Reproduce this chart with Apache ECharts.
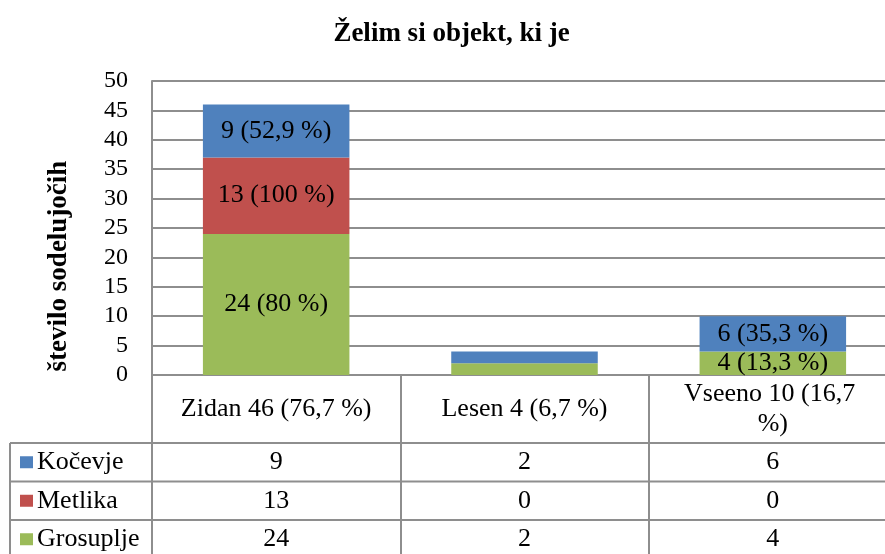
<!DOCTYPE html>
<html>
<head>
<meta charset="utf-8">
<script src="https://cdn.jsdelivr.net/npm/echarts@6/dist/echarts.min.js"></script>
<style>
  html, body { margin: 0; padding: 0; background: #fff; overflow: hidden; }
  /* the table's last column runs past the right edge of the window */
  #chart { width: 900px; height: 554px; }
</style>
</head>
<body>
<div id="chart"></div>
<script>
// Categories (answers) and respondents per town
const categories = ['Zidan 46 (76,7 %)', 'Lesen 4 (6,7 %)', 'Vseeno 10 (16,7 %)'];
const seriesNames = ['Kočevje', 'Metlika', 'Grosuplje'];
const kocevje = [9, 2, 6];
const metlika = [13, 0, 0];
const grosuplje = [24, 2, 4];
const labelledCategories = [true, false, true];
const yTicks = { min: 0, max: 50, interval: 5 };

const colors = { 'Kočevje': '#4F81BD', 'Metlika': '#C0504D', 'Grosuplje': '#9BBB59' };
const valuesByName = { 'Kočevje': kocevje, 'Metlika': metlika, 'Grosuplje': grosuplje };

const FONT = '"Liberation Serif", "Times New Roman", serif';
const GRID_COLOR = '#8e8e8e';
const VIEW_W = 885;

function pctText(values, i) {
  const total = values.reduce((a, b) => a + b, 0);
  let p = (values[i] / total * 100).toFixed(1).replace('.', ',');
  if (p.endsWith(',0')) p = p.slice(0, -2);
  return p + ' %';
}

const chart = echarts.init(document.getElementById('chart'), null, { renderer: 'canvas' });

// stack order bottom -> top
const stackOrder = ['Grosuplje', 'Metlika', 'Kočevje'];

chart.setOption({
  animation: false,
  title: {
    text: 'Želim si objekt, ki je',
    left: VIEW_W / 2 + 4,
    textAlign: 'center',
    top: 16,
    textStyle: { fontFamily: FONT, fontSize: 27, fontWeight: 'bold', color: '#000' }
  },
  grid: { left: 152, top: 81, width: 745, height: 294, containLabel: false },
  xAxis: {
    type: 'category',
    data: categories,
    axisLine: { show: true, lineStyle: { color: GRID_COLOR, width: 2 } },
    axisTick: { show: true, length: 200, lineStyle: { color: GRID_COLOR, width: 2 } },
    axisLabel: {
      interval: 0,
      margin: 34,
      verticalAlign: 'middle',
      fontFamily: FONT,
      fontSize: 26,
      lineHeight: 30,
      color: '#000',
      width: 202,
      overflow: 'break',
      align: 'center'
    }
  },
  yAxis: {
    type: 'value',
    min: yTicks.min,
    max: yTicks.max,
    interval: yTicks.interval,
    axisLine: { show: true, lineStyle: { color: GRID_COLOR, width: 2 } },
    axisTick: { show: false },
    splitLine: { show: true, lineStyle: { color: GRID_COLOR, width: 2 } },
    axisLabel: { margin: 24, fontFamily: FONT, fontSize: 24, color: '#000' }
  },
  series: stackOrder.map(name => ({
    name: name,
    type: 'bar',
    stack: 'total',
    barCategoryGap: '41%',
    data: valuesByName[name],
    itemStyle: { color: colors[name] },
    label: {
      show: true,
      position: 'inside',
      fontFamily: FONT,
      fontSize: 26,
      color: '#000',
      formatter: p => {
        if (!labelledCategories[p.dataIndex] || !p.value) return '';
        return p.value + ' (' + pctText(valuesByName[name], p.dataIndex) + ')';
      }
    }
  }))
});

// Data table below the axis
const tableTop = 443;
const rowHeight = 38.5;
const keyLeft = 20;
const tableLeft = 10;
const tableRight = 900;
const graphics = [];

graphics.push({
  type: 'text', x: 59, y: 266, rotation: Math.PI / 2,
  style: {
    text: 'število sodelujočih', font: 'bold 27px ' + FONT, fill: '#000',
    textAlign: 'center', textVerticalAlign: 'middle'
  }
});

for (let r = 0; r < 3; r++) {
  graphics.push({
    type: 'line', silent: true,
    shape: { x1: tableLeft, y1: tableTop + r * rowHeight, x2: tableRight, y2: tableTop + r * rowHeight },
    style: { stroke: GRID_COLOR, lineWidth: 2 }
  });
}
graphics.push({
  type: 'line', silent: true,
  shape: { x1: tableLeft, y1: tableTop, x2: tableLeft, y2: 554 },
  style: { stroke: GRID_COLOR, lineWidth: 2 }
});

seriesNames.forEach((name, r) => {
  const cy = tableTop + r * rowHeight + rowHeight / 2;
  graphics.push({
    type: 'rect', shape: { x: keyLeft, y: cy - 6, width: 13, height: 12 },
    style: { fill: colors[name] }
  });
  graphics.push({
    type: 'text', x: keyLeft + 17, y: cy,
    style: { text: name, font: '26px ' + FONT, fill: '#000', textAlign: 'left', textVerticalAlign: 'middle' }
  });
  valuesByName[name].forEach((v, i) => {
    const cx = chart.convertToPixel({ xAxisIndex: 0 }, i);
    graphics.push({
      type: 'text', x: cx, y: cy,
      style: { text: String(v), font: '26px ' + FONT, fill: '#000', textAlign: 'center', textVerticalAlign: 'middle' }
    });
  });
});

chart.setOption({ graphic: graphics });
</script>
</body>
</html>
